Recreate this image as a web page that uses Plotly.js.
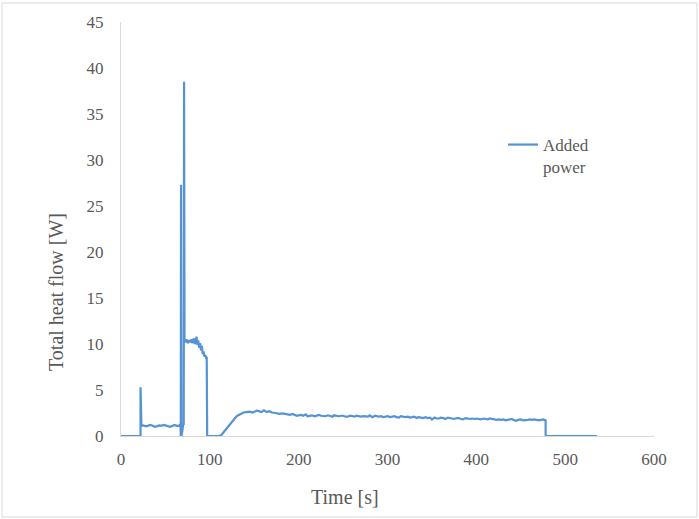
<!DOCTYPE html>
<html><head><meta charset="utf-8">
<script src="https://cdn.plot.ly/plotly-3.0.1.min.js"></script>
<style>html,body{margin:0;padding:0;background:#fff}#c{width:699px;height:519px}
#c text{font-family:"Liberation Serif",serif !important;}</style>
</head><body><div id="c"></div>
<script>
const seriesName = "Added<br>power";
const timeS = [0,22,22,23,25,28,30,33,35,38,40,43,45,48,50,53,55,58,60,63,65,66.5,67,67.3,67.6,68,69,70,70.6,71,71.5,
72,73,74,75,76,77,78,79,80,81,82,83,84,85,86,87,88,89,90,91,92,93,94,95,96,96.5,97,
111,113,115,117,119,121,123,125,127,129,131,133,135,138,141,145,148,150,153,155,158,161,164,167,170,174,178,182,186,190,193,195,198,200,203,205,208,210,213,215,218,220,223,225,228,230,233,235,238,240,243,245,248,250,253,255,258,260,263,265,268,270,273,275,278,280,283,286,290,293,295,298,300,303,305,308,310,313,315,318,320,323,325,328,330,333,335,338,340,343,345,348,350,353,355,358,360,363,365,368,370,373,375,378,380,383,385,388,390,393,395,398,400,403,405,408,410,413,415,418,420,423,425,428,430,433,435,438,440,443,445,447,450,453,455,458,460,463,465,468,470,473,475,478,478,536];
const heatW = [0,0,5.3,1.1,1.15,1.05,1.1,1.2,1.15,1.0,1.05,1.15,1.1,1.2,1.15,1.05,1.0,1.1,1.2,1.1,1.1,1.25,1.2,0,27.3,0,0.5,1.3,1.2,38.5,10.3,
10.4,10.2,10.5,10.1,10.3,10.4,10.2,10.5,10.1,10.3,10.6,10.0,10.2,10.8,9.9,10.4,9.6,10.1,9.3,9.8,8.9,9.2,8.6,8.8,8.4,8.6,0,
0,0.1,0.35,0.6,0.85,1.1,1.35,1.6,1.8,2.0,2.2,2.3,2.45,2.55,2.6,2.65,2.55,2.6,2.75,2.7,2.6,2.8,2.6,2.7,2.55,2.5,2.4,2.45,2.35,2.3,2.4,2.35,2.2,2.25,2.3,2.2,2.35,2.15,2.25,2.25,2.15,2.2,2.3,2.2,2.15,2.15,2.25,2.2,2.1,2.25,2.2,2.15,2.2,2.2,2.1,2.1,2.2,2.15,2.1,2.2,2.15,2.1,2.15,2.15,2.1,2.25,2.05,2.2,2.1,2.15,2.05,2.1,2.15,2.05,2.1,2.15,2.05,2.0,2.15,2.1,2.05,2.1,2.0,2.05,2.1,1.95,2.05,2.0,1.95,2.05,1.95,2.0,1.8,2.0,1.9,1.9,2.0,1.95,1.85,2.0,1.95,1.9,1.85,1.95,1.95,1.85,1.8,1.95,1.9,1.85,1.9,1.85,1.9,1.85,1.8,1.9,1.85,1.8,1.9,1.85,1.8,1.75,1.8,1.75,1.8,1.7,1.75,1.8,1.85,1.7,1.65,1.75,1.8,1.7,1.7,1.75,1.8,1.75,1.8,1.7,1.7,1.75,1.8,1.7,0,0];
const xTicks = [0,100,200,300,400,500,600];
const yTicks = [0,5,10,15,20,25,30,35,40,45];

const L=121, R=45, T=22, B=83, W=699, H=519;
const pw = W-L-R, ph = H-T-B;
const px = v => (v-L)/pw, py = v => (H-B-v)/ph;
const grey = '#595959';
const fam = 'Liberation Serif';
const f = (s) => ({family:fam, size:s, color:grey});

Plotly.newPlot('c', [{
  x: timeS, y: heatW, type:'scatter', mode:'lines', name: seriesName,
  line:{color:'#5593d3', width:2.2}
}], {
  width:W, height:H, margin:{l:L,r:R,t:T,b:B},
  paper_bgcolor:'#fff', plot_bgcolor:'#fff', font: f(17),
  showlegend:true,
  legend:{x:px(503), y:py(127), xanchor:'left', yanchor:'top', font:f(17), bgcolor:'rgba(0,0,0,0)', valign:'top', itemwidth:30},
  xaxis:{range:[0,600], tickvals:xTicks, ticktext:xTicks.map(String), showgrid:false, zeroline:false,
         showline:true, linecolor:'#d9d9d9', linewidth:1, ticks:'', ticklabelstandoff:8, tickfont:f(17), fixedrange:true},
  yaxis:{range:[0,45], tickvals:yTicks, ticktext:yTicks.map(String), showgrid:false, zeroline:false,
         showline:true, linecolor:'#d9d9d9', linewidth:1, ticks:'', ticklabelstandoff:13, tickfont:f(17), fixedrange:true},
  annotations:[
    {text:'Time [s]', xref:'paper', yref:'paper', x:px(345), y:py(497), xanchor:'center', yanchor:'middle', showarrow:false, font:f(20)},
    {text:'Total heat flow [W]', xref:'paper', yref:'paper', x:px(56), y:py(292), xanchor:'center', yanchor:'middle', textangle:-90, showarrow:false, font:f(20)}
  ],
  shapes:[
    {type:'rect', xref:'paper', yref:'paper', x0:px(2), x1:px(697), y0:py(517), y1:py(3), line:{color:'#d9d9d9', width:1}}
  ]
}, {staticPlot:true});
</script></body></html>
